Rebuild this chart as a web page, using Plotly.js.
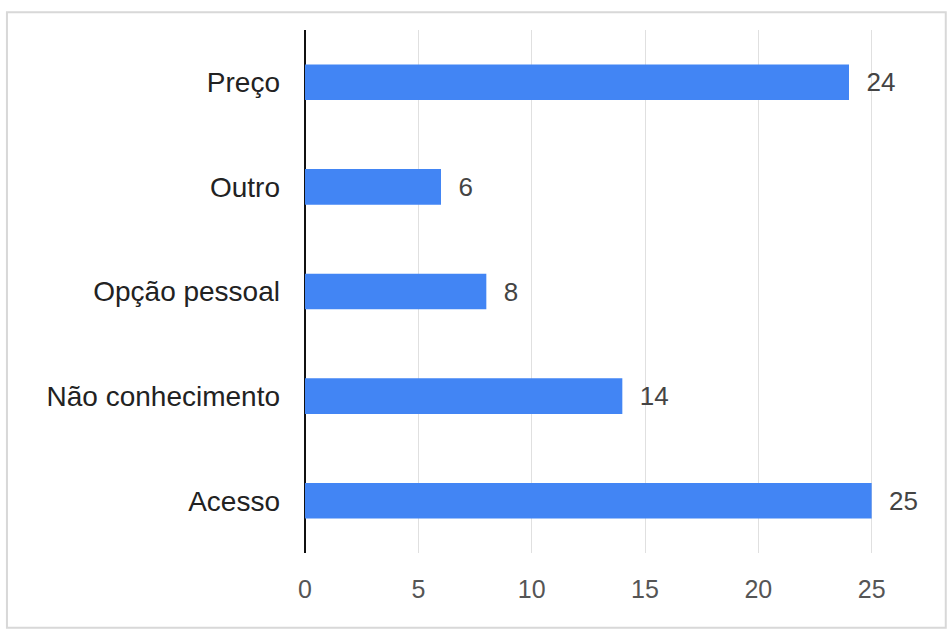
<!DOCTYPE html>
<html>
<head>
<meta charset="utf-8">
<script src="https://cdn.plot.ly/plotly-3.0.1.min.js"></script>
<style>html,body{margin:0;padding:0;background:#fff;}#chart{width:952px;height:633px;}</style>
</head>
<body>
<div id="chart"></div>
<script>
const categories = ["Preço", "Outro", "Opção pessoal", "Não conhecimento", "Acesso"];
const values = [24, 6, 8, 14, 25];
const xTicks = [0, 5, 10, 15, 20, 25];

const trace = {
  type: "bar",
  orientation: "h",
  y: categories,
  x: values,
  text: values.map(v => "\u00a0\u00a0" + v),
  textposition: "outside",
  cliponaxis: false,
  textfont: {family: "Liberation Sans, Arial, sans-serif", size: 26, color: "#444"},
  marker: {color: "#4285F4"},
  width: 0.34,
  hoverinfo: "none"
};

const layout = {
  width: 952, height: 633,
  margin: {l: 305, r: 35, t: 30, b: 80},
  paper_bgcolor: "#fff", plot_bgcolor: "#fff",
  showlegend: false,
  font: {family: "Liberation Sans, Arial, sans-serif", size: 26, color: "#222"},
  xaxis: {
    range: [0, 27], tickvals: xTicks, ticktext: xTicks.map(String),
    showgrid: true, gridcolor: "#e0e0e0", gridwidth: 1,
    zeroline: true, zerolinecolor: "#111", zerolinewidth: 2,
    showline: false, ticks: "", ticklabelstandoff: 19,
    tickfont: {size: 25, color: "#555"}, fixedrange: true
  },
  yaxis: {
    type: "category", autorange: "reversed",
    showgrid: false, zeroline: false, showline: false, ticks: "",
    ticklabelstandoff: 24, tickfont: {size: 28, color: "#222"}, fixedrange: true
  },
  shapes: [{
    type: "rect", xref: "paper", yref: "paper",
    x0: -0.487, x1: 1.047, y0: -0.143, y1: 1.034,
    line: {color: "#d8d8d8", width: 2}, fillcolor: "rgba(0,0,0,0)", layer: "below"
  }]
};

Plotly.newPlot("chart", [trace], layout, {displayModeBar: false, staticPlot: true});
</script>
</body>
</html>
